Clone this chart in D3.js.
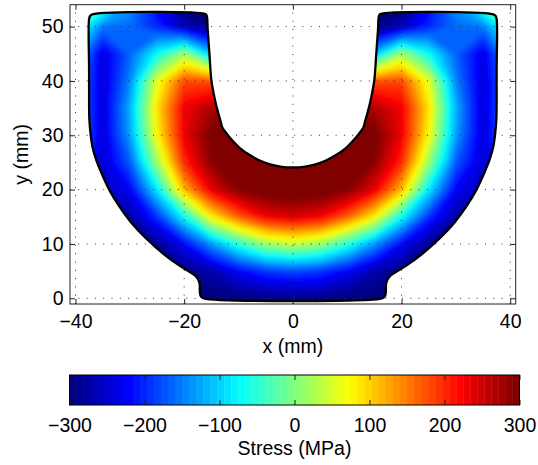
<!DOCTYPE html>
<html>
<head>
<meta charset="utf-8">
<script src="https://cdn.jsdelivr.net/npm/d3@7"></script>
<style>
  body { margin: 0; background: #fff; }
  text { font-family: "Liberation Sans", Arial, Helvetica, sans-serif; }
</style>
</head>
<body>
<div id="wrapper"></div>
<script>
// sample grid (mm), every 5 mm
const xGrid = [-40, -35, -30, -25, -20, -15, -10, -5, 0, 5, 10, 15, 20, 25, 30, 35, 40];
const yGrid = [55, 50, 45, 40, 35, 30, 25, 20, 15, 10, 5, 0];

// stress in MPa, one row per y value (points outside the part continue the edge values)
const row55 = [180, 0, -120, -240, -330, -340, -340, -340, -340, -340, -340, -340, -330, -240, -120, 0, 180];
const row50 = [-30, -150, -160, -200, -260, -290, -300, -300, -300, -300, -300, -290, -260, -200, -160, -150, -30];
const row45 = [-110, -240, -165, -70, 20, -110, -150, -150, -150, -150, -150, -110, 20, -70, -165, -240, -110];
const row40 = [-135, -245, -145, 60, 180, 175, 170, 170, 170, 170, 170, 175, 180, 60, -145, -245, -135];
const row35 = [-135, -245, -120, 90, 230, 270, 250, 270, 290, 270, 250, 270, 230, 90, -120, -245, -135];
const row30 = [-140, -245, -130, 75, 230, 305, 330, 330, 330, 330, 330, 305, 230, 75, -130, -245, -140];
const row25 = [-160, -250, -170, 15, 200, 290, 325, 335, 340, 335, 325, 290, 200, 15, -170, -250, -160];
const row20 = [-250, -260, -225, -85, 115, 235, 295, 315, 320, 315, 295, 235, 115, -85, -225, -260, -250];
const row15 = [-300, -300, -275, -195, -70, 80, 167, 228, 245, 228, 167, 80, -70, -195, -275, -300, -300];
const row10 = [-300, -300, -300, -285, -222, -135, -52, 15, 40, 15, -52, -135, -222, -285, -300, -300, -300];
const row5 = [-300, -300, -300, -300, -293, -270, -225, -192, -180, -192, -225, -270, -293, -300, -300, -300, -300];
const row0 = [-300, -300, -300, -300, -300, -300, -297, -292, -290, -292, -297, -300, -300, -300, -300, -300, -300];
const stressRows = [row55, row50, row45, row40, row35, row30, row25, row20, row15, row10, row5, row0];

// outline of the part (mm), traced round the edge
const outlineX = [-36.7, -37.3, -37.5, -37.5, -37.5, -37.45, -37.25, -36.9, -36.2, -35.2, -33.8, -32.0, -29.8, -27.0, -23.6, -21.0,
  -18.6, -17.9, -17.4, -17.15, -17.1, -16.9, -16.4,
  16.4, 16.9, 17.1, 17.15, 17.4, 17.9, 18.6,
  21.0, 23.6, 27.0, 29.8, 32.0, 33.8, 35.2, 36.2, 36.9, 37.25, 37.45, 37.5, 37.5, 37.5, 37.3, 36.7,
  16.1, 15.85, 15.67, 15.35, 15.0, 14.45, 14.1, 13.7, 13.3, 13.0, 12.1, 11.0, 9.7, 8.0, 6.0, 4.0, 2.0, 0.0,
  -2.0, -4.0, -6.0, -8.0, -9.7, -11.0, -12.1, -13.0, -13.3, -13.7, -14.1, -14.45, -15.0, -15.35, -15.67, -15.85, -16.1];
const outlineY = [52.3, 52.0, 51.4, 42.0, 36.0, 33.0, 30.5, 28.0, 25.5, 23.0, 20.0, 17.0, 14.0, 11.0, 8.0, 6.1,
  4.6, 4.1, 3.4, 2.6, 1.0, 0.3, 0.0,
  0.0, 0.3, 1.0, 2.6, 3.4, 4.1, 4.6,
  6.1, 8.0, 11.0, 14.0, 17.0, 20.0, 23.0, 25.5, 28.0, 30.5, 33.0, 36.0, 42.0, 51.4, 52.0, 52.3,
  52.3, 52.0, 49.4, 45.0, 40.2, 37.1, 35.5, 34.0, 32.6, 31.5, 30.2, 28.9, 27.6, 26.4, 25.3, 24.6, 24.2, 24.1,
  24.2, 24.6, 25.3, 26.4, 27.6, 28.9, 30.2, 31.5, 32.6, 34.0, 35.5, 37.1, 40.2, 45.0, 49.4, 52.0, 52.3];

// ticks
const xTicks = [-40, -20, 0, 20, 40];
const yTicks = [0, 10, 20, 30, 40, 50];
const barTicks = [-300, -200, -100, 0, 100, 200, 300];

const fontSize = '19.5px';

// MATLAB style jet colormap, 64 steps
const jet = (t) => {
  const c = (v) => Math.max(0, Math.min(1, v));
  return d3.rgb(255 * c(1.5 - Math.abs(4 * t - 3)), 255 * c(1.5 - Math.abs(4 * t - 2)), 255 * c(1.5 - Math.abs(4 * t - 1))).formatHex();
};
const jetColors = d3.range(64).map((k) => jet(k / 63));
const color = d3.scaleQuantize().domain([-300, 300]).range(jetColors);
const step = 600 / 64;

const svg = d3.select('#wrapper')
  .append('svg')
  .attr('width', 538)
  .attr('height', 465);

// scales in mm
const xScale = d3.scaleLinear().domain([-41.01, 41.01]).range([70, 515.7]);
const yScale = d3.scaleLinear().domain([-1.05, 54.03]).range([304, 4.7]);

// d3.contours puts sample i at i + 0.5 in grid space
const gx = d3.scaleLinear().domain([0.5, xGrid.length - 0.5]).range([xGrid[0], xGrid[xGrid.length - 1]]);
const gy = d3.scaleLinear().domain([0.5, yGrid.length - 0.5]).range([yGrid[0], yGrid[yGrid.length - 1]]);

const outline = d3.line()
  .x((d) => xScale(d[0]))
  .y((d) => yScale(d[1]))
  .curve(d3.curveCatmullRomClosed.alpha(0.5));
const outlinePts = outlineX.map((x, i) => [x, outlineY[i]]);

const defs = svg.append('defs');
defs.append('clipPath').attr('id', 'part')
  .append('path').attr('d', outline(outlinePts));
defs.append('filter').attr('id', 'soft')
  .append('feGaussianBlur').attr('stdDeviation', 2);

// filled contours of the stress field
const levels = d3.range(64).map((k) => (k === 0 ? -10000 : -300 + k * step));
const bands = d3.contours()
  .size([xGrid.length, yGrid.length])
  .thresholds(levels)(stressRows.flat());

const toScreen = d3.geoTransform({
  point: function (x, y) {
    this.stream.point(xScale(gx(x)), yScale(gy(y)));
  }
});

svg.append('g')
  .attr('clip-path', 'url(#part)')
  .append('g')
  .attr('filter', 'url(#soft)')
  .selectAll('path')
  .data(bands)
  .join('path')
  .attr('d', d3.geoPath(toScreen))
  .attr('fill', (d) => color(Math.max(d.value, -300) + step / 2));

// dotted grid on top of the field
const grid = svg.append('g')
  .attr('stroke', '#333')
  .attr('stroke-width', 1)
  .attr('stroke-dasharray', '1,7.3');
grid.selectAll('.gx').data(xTicks).join('line')
  .attr('x1', (d) => xScale(d)).attr('x2', (d) => xScale(d))
  .attr('y1', 304).attr('y2', 4.7);
grid.selectAll('.gy').data(yTicks).join('line')
  .attr('y1', (d) => yScale(d)).attr('y2', (d) => yScale(d))
  .attr('x1', 70).attr('x2', 515.7);

// outline of the part
svg.append('path')
  .attr('d', outline(outlinePts))
  .attr('fill', 'none')
  .attr('stroke', '#000')
  .attr('stroke-width', 2.3)
  .attr('stroke-linejoin', 'round');

// axes, ticks point inward on all four sides
const styleAxis = (g) => {
  g.select('.domain').remove();
  g.selectAll('.tick line').attr('stroke', '#222');
  g.selectAll('text').attr('font-size', fontSize).attr('fill', '#000');
  g.attr('font-family', null).attr('font-size', null);
};

svg.append('g')
  .attr('transform', 'translate(0,304)')
  .call(d3.axisBottom(xScale).tickValues(xTicks).tickSizeInner(-5).tickSizeOuter(0).tickPadding(10.5))
  .call(styleAxis);
svg.append('g')
  .attr('transform', 'translate(0,4.7)')
  .call(d3.axisTop(xScale).tickValues(xTicks).tickSizeInner(-5).tickSizeOuter(0).tickFormat(() => ''))
  .call(styleAxis);
svg.append('g')
  .attr('transform', 'translate(70,0)')
  .call(d3.axisLeft(yScale).tickValues(yTicks).tickSizeInner(-5).tickSizeOuter(0).tickPadding(6.5))
  .call(styleAxis);
svg.append('g')
  .attr('transform', 'translate(515.7,0)')
  .call(d3.axisRight(yScale).tickValues(yTicks).tickSizeInner(-5).tickSizeOuter(0).tickFormat(() => ''))
  .call(styleAxis);

svg.append('rect')
  .attr('x', 70).attr('y', 4.7)
  .attr('width', 445.7).attr('height', 299.3)
  .attr('fill', 'none')
  .attr('stroke', '#222')
  .attr('stroke-width', 1);

svg.append('text')
  .attr('x', xScale(0)).attr('y', 352.6)
  .attr('text-anchor', 'middle')
  .attr('font-size', fontSize)
  .text('x (mm)');
svg.append('text')
  .attr('transform', 'translate(27.5,154.4) rotate(-90)')
  .attr('text-anchor', 'middle')
  .attr('font-size', fontSize)
  .text('y (mm)');

// colorbar
const barX = d3.scaleLinear().domain([-300, 300]).range([69.5, 519.5]);
svg.append('g')
  .selectAll('rect')
  .data(jetColors)
  .join('rect')
  .attr('x', (d, k) => barX(-300 + k * step))
  .attr('width', barX(-300 + step) - barX(-300) + 0.4)
  .attr('y', 375)
  .attr('height', 30)
  .attr('fill', (d) => d);

svg.append('g')
  .attr('transform', 'translate(0,405)')
  .call(d3.axisBottom(barX).tickValues(barTicks).tickSizeInner(-5).tickSizeOuter(0).tickPadding(13.2))
  .call(styleAxis);
svg.append('g')
  .attr('transform', 'translate(0,375)')
  .call(d3.axisTop(barX).tickValues(barTicks).tickSizeInner(-5).tickSizeOuter(0).tickFormat(() => ''))
  .call(styleAxis);

svg.append('rect')
  .attr('x', 69.5).attr('y', 375)
  .attr('width', 450).attr('height', 30)
  .attr('fill', 'none')
  .attr('stroke', '#000')
  .attr('stroke-width', 1);

svg.append('text')
  .attr('x', barX(0)).attr('y', 455)
  .attr('text-anchor', 'middle')
  .attr('font-size', fontSize)
  .text('Stress (MPa)');
</script>
</body>
</html>
